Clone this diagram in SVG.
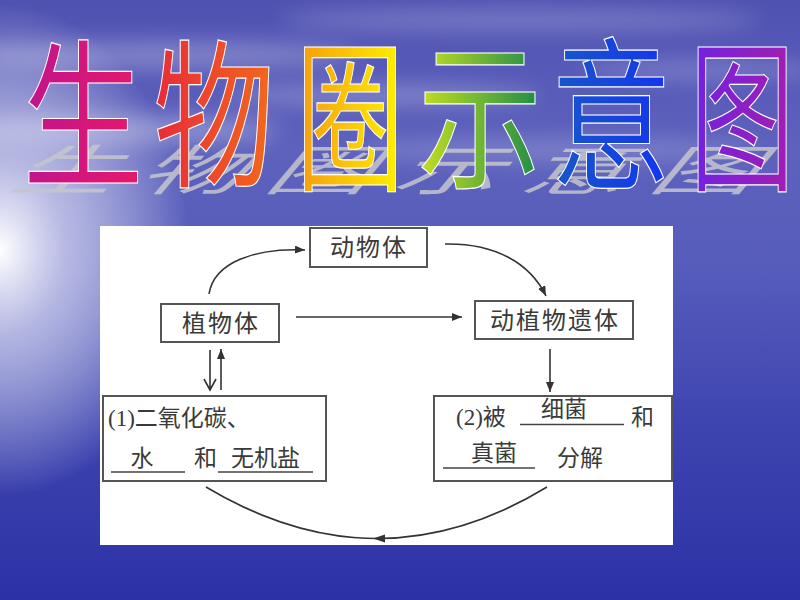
<svg xmlns="http://www.w3.org/2000/svg" width="800" height="600" viewBox="0 0 800 600">
<defs>
<linearGradient id="bg" x1="0" y1="0" x2="0" y2="1">
<stop offset="0" stop-color="#5052b2"/>
<stop offset="0.25" stop-color="#5e62bd"/>
<stop offset="0.45" stop-color="#565cbb"/>
<stop offset="0.7" stop-color="#3e45b0"/>
<stop offset="1" stop-color="#2c32a5"/>
</linearGradient>
<radialGradient id="glow" cx="0" cy="250" r="190" gradientUnits="userSpaceOnUse" gradientTransform="translate(0,250) scale(1,1.3) translate(0,-250)">
<stop offset="0" stop-color="#ffffff" stop-opacity="1"/>
<stop offset="0.35" stop-color="#dfe0f4" stop-opacity="0.7"/>
<stop offset="1" stop-color="#ffffff" stop-opacity="0"/>
</radialGradient>
<filter id="blur" x="-20%" y="-50%" width="140%" height="200%"><feGaussianBlur stdDeviation="10"/></filter>
<filter id="sblur"><feGaussianBlur stdDeviation="0.7"/></filter>
<linearGradient id="g1" x1="0" y1="0" x2="1" y2="0"><stop offset="0" stop-color="#c0148e"/><stop offset="1" stop-color="#e8186a"/></linearGradient>
<linearGradient id="g2" x1="0" y1="0" x2="1" y2="0"><stop offset="0" stop-color="#e82a3a"/><stop offset="1" stop-color="#f26a1a"/></linearGradient>
<linearGradient id="g3" x1="0" y1="0" x2="1" y2="0"><stop offset="0" stop-color="#f59a10"/><stop offset="1" stop-color="#fff400"/></linearGradient>
<linearGradient id="g4" x1="0" y1="0" x2="1" y2="0"><stop offset="0" stop-color="#c8e020"/><stop offset="1" stop-color="#1a8a4a"/></linearGradient>
<linearGradient id="g5" x1="0" y1="0" x2="1" y2="0"><stop offset="0" stop-color="#1858c8"/><stop offset="1" stop-color="#1234f0"/></linearGradient>
<linearGradient id="g6" x1="0" y1="0" x2="1" y2="0"><stop offset="0" stop-color="#7022e0"/><stop offset="1" stop-color="#a41eb0"/></linearGradient>
<marker id="ah" markerWidth="10" markerHeight="8" refX="10" refY="4" orient="auto" markerUnits="userSpaceOnUse">
<path d="M0,0 L10,4 L0,8 z" fill="#333"/>
</marker>
</defs>
<style>
.title{font-family:"Noto Sans CJK SC","Noto Sans CJK JP",sans-serif;font-size:160px;font-weight:400;stroke:#ffffff;stroke-width:1.2;text-anchor:middle}
.shadow{font-family:"Noto Sans CJK SC",sans-serif;font-size:150px;font-weight:400;fill:#c6c6ce;opacity:0.85}
.box{fill:#ffffff;stroke:#555555;stroke-width:2}
.lbl{font-family:"Liberation Serif","Noto Sans CJK SC",serif;font-size:24px;fill:#3a3a3a;letter-spacing:2px}
.lbl2{font-family:"Liberation Serif","Noto Sans CJK SC",serif;font-size:23px;fill:#3a3a3a}
.c{text-anchor:middle}
.ln{fill:none;stroke:#333333;stroke-width:1.6}
.ul{stroke:#444444;stroke-width:1.5}
</style>

<rect x="0" y="0" width="800" height="600" fill="url(#bg)"/>
<g filter="url(#blur)" fill="#ffffff">
<ellipse cx="160" cy="55" rx="200" ry="14" opacity="0.25"/>
<ellipse cx="520" cy="20" rx="240" ry="12" opacity="0.2"/>
<ellipse cx="380" cy="95" rx="160" ry="10" opacity="0.25"/>
<ellipse cx="700" cy="70" rx="120" ry="10" opacity="0.2"/>
<ellipse cx="120" cy="130" rx="160" ry="14" opacity="0.3"/>
<ellipse cx="560" cy="150" rx="200" ry="12" opacity="0.18"/>
</g>
<rect x="0" y="0" width="800" height="600" fill="url(#glow)"/>

<g id="title">
<g id="title-shadow" filter="url(#sblur)">
<text class="shadow" transform="translate(6,190) skewX(-40) scale(0.7,0.36)" letter-spacing="33">生物圈示意图</text>
</g>
<text class="title" fill="url(#g1)" transform="translate(83,175) scale(0.76,1)">生</text>
<text class="title" fill="url(#g2)" transform="translate(214,175) scale(0.76,1)">物</text>
<text class="title" fill="url(#g3)" transform="translate(350,178) scale(0.68,1.02)">圈</text>
<text class="title" fill="url(#g4)" transform="translate(480,176) scale(0.78,1)">示</text>
<text class="title" fill="url(#g5)" transform="translate(611,176) scale(0.76,1.02)">意</text>
<text class="title" fill="url(#g6)" transform="translate(742,178) scale(0.66,1.02)">图</text>
</g>

<rect id="panel" x="100" y="226" width="573" height="319" fill="#ffffff"/>

<g id="connectors">
<path class="ln" d="M209,294 C214,262 255,248 305,250" marker-end="url(#ah)"/>
<path class="ln" d="M445,244 C495,243 530,263 546,296" marker-end="url(#ah)"/>
<path class="ln" d="M296,317 L462,317" marker-end="url(#ah)"/>
<path class="ln" d="M550,349 L550,392" marker-end="url(#ah)"/>
<path class="ln" d="M210,350 L210,390 M204,379 L210,390 L216,379"/>
<path class="ln" d="M221,390 L221,349" marker-end="url(#ah)"/>
<path class="ln" d="M547,487 Q378,590 206,487"/>
<polygon points="373,538.5 385,534.5 385,542.5" fill="#333333"/>
</g>

<g id="animal">
<rect class="box" x="310" y="228" width="117" height="39"/>
<text class="lbl c" x="369" y="256">动物体</text>
</g>
<g id="plant">
<rect class="box" x="161" y="304" width="118" height="38"/>
<text class="lbl c" x="221" y="332">植物体</text>
</g>
<g id="remains">
<rect class="box" x="475" y="301" width="158" height="38"/>
<text class="lbl c" x="555" y="329">动植物遗体</text>
</g>
<g id="inorganic">
<rect class="box" x="103" y="396" width="223" height="85"/>
<text class="lbl2" x="108" y="426">(1)二氧化碳、</text>
<line class="ul" x1="111" y1="472" x2="185" y2="472"/>
<text class="lbl2 c" x="142" y="466">水</text>
<text class="lbl2" x="194" y="466">和</text>
<line class="ul" x1="218" y1="472" x2="313" y2="472"/>
<text class="lbl2" x="231" y="466">无机盐</text>
</g>
<g id="decompose">
<rect class="box" x="434" y="396" width="238" height="85"/>
<text class="lbl2" x="456" y="425">(2)被</text>
<line class="ul" x1="520" y1="424.5" x2="624" y2="424.5"/>
<text class="lbl2 c" x="564" y="417">细菌</text>
<text class="lbl2" x="631" y="425">和</text>
<line class="ul" x1="443" y1="468" x2="535" y2="468"/>
<text class="lbl2 c" x="494" y="461">真菌</text>
<text class="lbl2" x="557" y="466">分解</text>
</g>
</svg>
